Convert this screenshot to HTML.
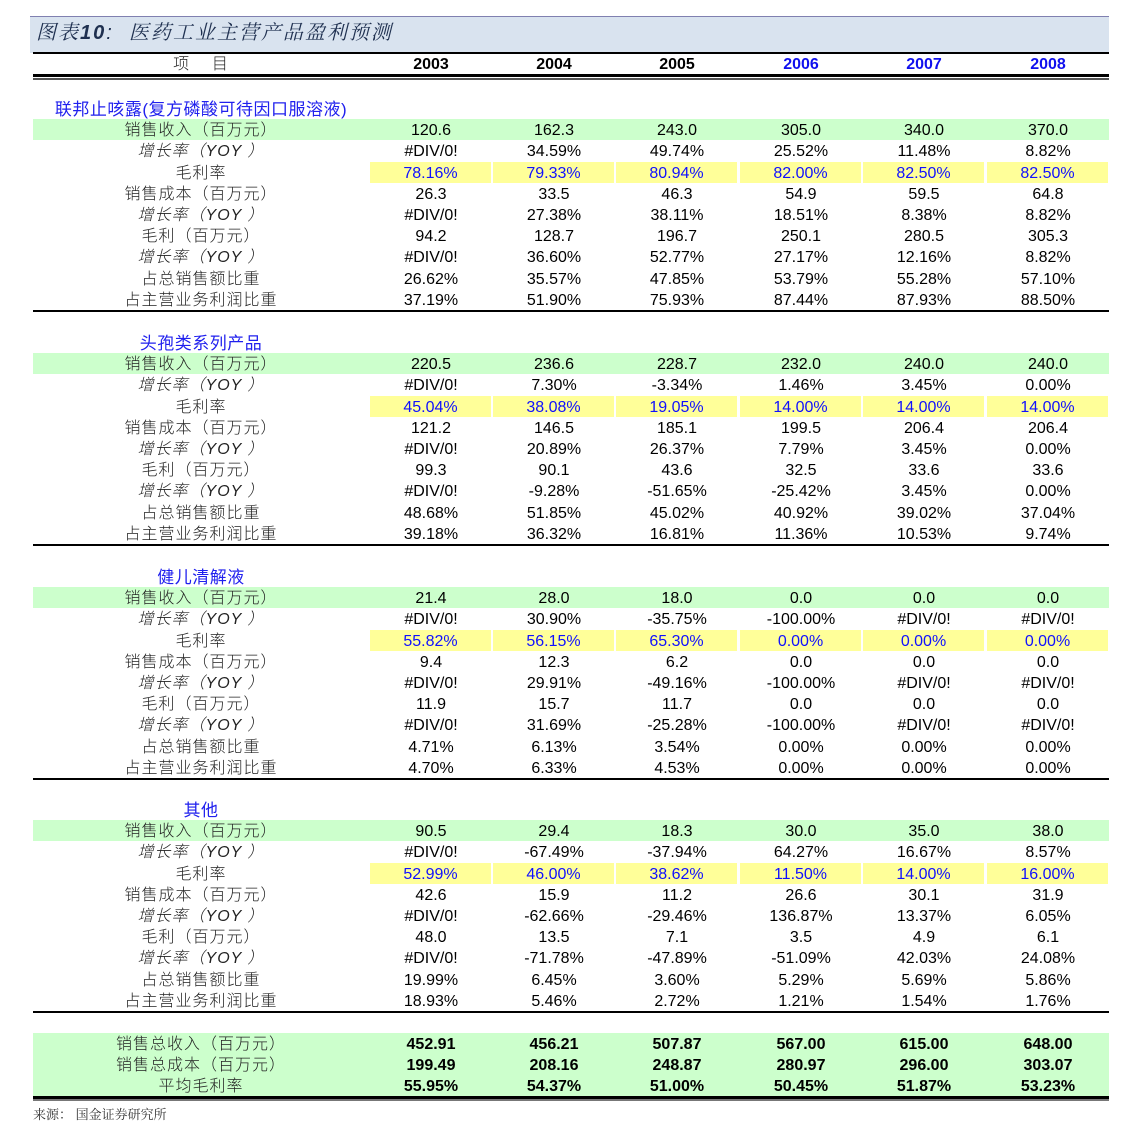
<!DOCTYPE html>
<html><head><meta charset="utf-8"><style>
body{margin:0;background:#fff;width:1139px;height:1138px;position:relative;overflow:hidden;font-family:"Liberation Sans","Noto Sans CJK SC",sans-serif;font-size:16px;color:#000}
.tb{position:absolute;left:30px;top:16px;width:1079px;height:36px;background:#d9e3ef;border-top:1px solid #8080b0}
.tt{position:absolute;left:36px;top:18px;font-size:20px;letter-spacing:2px;font-style:italic;color:#1f3050;line-height:30px;font-family:"Liberation Sans","Noto Serif CJK SC",serif}
.hl{position:absolute;left:33px;width:1076px;background:#000}
.r{position:absolute;left:33px;width:1076px;height:21px;line-height:23px}
.g{background:#ccffcc}
.l{position:absolute;left:0;width:336px;text-align:center;letter-spacing:1px;font-family:"Liberation Sans","Noto Sans CJK SC",sans-serif;font-weight:300;color:#222}
.i .l{font-style:italic}
.c{position:absolute;top:0;width:122px;height:21px;text-align:center}
.c1{left:337px}.c2{left:460px}.c3{left:583px}.c4{left:707px}.c5{left:830px}.c6{left:954px}
.y .c{background:#ffff99;color:#1010ff;width:121px}
.s{position:absolute;left:33px;width:336px;text-align:center;color:#2020ee;font-size:17px;line-height:23px;letter-spacing:0.5px}
.b .c{font-weight:bold}
.h .c{font-weight:bold}
.h .c4,.h .c5,.h .c6{color:#1010ee}
.src{position:absolute;left:33px;top:1104px;font-size:13px;color:#333;font-family:"Liberation Sans","Noto Serif CJK SC",serif}
</style></head><body>
<div class="tb"></div>
<div class="tt">图表<b>10</b>:&nbsp; 医药工业主营产品盈利预测</div>
<div class="hl" style="top:52px;height:2px"></div>
<div class="r h" style="top:53px"><div class="l">项&nbsp;&nbsp;&nbsp;&nbsp;目</div><div class="c c1">2003</div><div class="c c2">2004</div><div class="c c3">2005</div><div class="c c4">2006</div><div class="c c5">2007</div><div class="c c6">2008</div></div>
<div class="hl" style="top:74px;height:3px"></div>
<div class="hl" style="top:78px;height:2px;background:#555"></div>

<div class="s" style="top:98px">联邦止咳露(复方磷酸可待因口服溶液)</div>
<div class="r g" style="top:119px"><div class="l">销售收入（百万元）</div><div class="c c1">120.6</div><div class="c c2">162.3</div><div class="c c3">243.0</div><div class="c c4">305.0</div><div class="c c5">340.0</div><div class="c c6">370.0</div></div>
<div class="r i" style="top:140px"><div class="l">增长率（YOY ）</div><div class="c c1">#DIV/0!</div><div class="c c2">34.59%</div><div class="c c3">49.74%</div><div class="c c4">25.52%</div><div class="c c5">11.48%</div><div class="c c6">8.82%</div></div>
<div class="r y" style="top:162px"><div class="l">毛利率</div><div class="c c1">78.16%</div><div class="c c2">79.33%</div><div class="c c3">80.94%</div><div class="c c4">82.00%</div><div class="c c5">82.50%</div><div class="c c6">82.50%</div></div>
<div class="r" style="top:183px"><div class="l">销售成本（百万元）</div><div class="c c1">26.3</div><div class="c c2">33.5</div><div class="c c3">46.3</div><div class="c c4">54.9</div><div class="c c5">59.5</div><div class="c c6">64.8</div></div>
<div class="r i" style="top:204px"><div class="l">增长率（YOY ）</div><div class="c c1">#DIV/0!</div><div class="c c2">27.38%</div><div class="c c3">38.11%</div><div class="c c4">18.51%</div><div class="c c5">8.38%</div><div class="c c6">8.82%</div></div>
<div class="r" style="top:225px"><div class="l">毛利（百万元）</div><div class="c c1">94.2</div><div class="c c2">128.7</div><div class="c c3">196.7</div><div class="c c4">250.1</div><div class="c c5">280.5</div><div class="c c6">305.3</div></div>
<div class="r i" style="top:246px"><div class="l">增长率（YOY ）</div><div class="c c1">#DIV/0!</div><div class="c c2">36.60%</div><div class="c c3">52.77%</div><div class="c c4">27.17%</div><div class="c c5">12.16%</div><div class="c c6">8.82%</div></div>
<div class="r" style="top:268px"><div class="l">占总销售额比重</div><div class="c c1">26.62%</div><div class="c c2">35.57%</div><div class="c c3">47.85%</div><div class="c c4">53.79%</div><div class="c c5">55.28%</div><div class="c c6">57.10%</div></div>
<div class="r" style="top:289px"><div class="l">占主营业务利润比重</div><div class="c c1">37.19%</div><div class="c c2">51.90%</div><div class="c c3">75.93%</div><div class="c c4">87.44%</div><div class="c c5">87.93%</div><div class="c c6">88.50%</div></div>
<div class="hl" style="top:310px;height:2px"></div>

<div class="s" style="top:332px">头孢类系列产品</div>
<div class="r g" style="top:353px"><div class="l">销售收入（百万元）</div><div class="c c1">220.5</div><div class="c c2">236.6</div><div class="c c3">228.7</div><div class="c c4">232.0</div><div class="c c5">240.0</div><div class="c c6">240.0</div></div>
<div class="r i" style="top:374px"><div class="l">增长率（YOY ）</div><div class="c c1">#DIV/0!</div><div class="c c2">7.30%</div><div class="c c3">-3.34%</div><div class="c c4">1.46%</div><div class="c c5">3.45%</div><div class="c c6">0.00%</div></div>
<div class="r y" style="top:396px"><div class="l">毛利率</div><div class="c c1">45.04%</div><div class="c c2">38.08%</div><div class="c c3">19.05%</div><div class="c c4">14.00%</div><div class="c c5">14.00%</div><div class="c c6">14.00%</div></div>
<div class="r" style="top:417px"><div class="l">销售成本（百万元）</div><div class="c c1">121.2</div><div class="c c2">146.5</div><div class="c c3">185.1</div><div class="c c4">199.5</div><div class="c c5">206.4</div><div class="c c6">206.4</div></div>
<div class="r i" style="top:438px"><div class="l">增长率（YOY ）</div><div class="c c1">#DIV/0!</div><div class="c c2">20.89%</div><div class="c c3">26.37%</div><div class="c c4">7.79%</div><div class="c c5">3.45%</div><div class="c c6">0.00%</div></div>
<div class="r" style="top:459px"><div class="l">毛利（百万元）</div><div class="c c1">99.3</div><div class="c c2">90.1</div><div class="c c3">43.6</div><div class="c c4">32.5</div><div class="c c5">33.6</div><div class="c c6">33.6</div></div>
<div class="r i" style="top:480px"><div class="l">增长率（YOY ）</div><div class="c c1">#DIV/0!</div><div class="c c2">-9.28%</div><div class="c c3">-51.65%</div><div class="c c4">-25.42%</div><div class="c c5">3.45%</div><div class="c c6">0.00%</div></div>
<div class="r" style="top:502px"><div class="l">占总销售额比重</div><div class="c c1">48.68%</div><div class="c c2">51.85%</div><div class="c c3">45.02%</div><div class="c c4">40.92%</div><div class="c c5">39.02%</div><div class="c c6">37.04%</div></div>
<div class="r" style="top:523px"><div class="l">占主营业务利润比重</div><div class="c c1">39.18%</div><div class="c c2">36.32%</div><div class="c c3">16.81%</div><div class="c c4">11.36%</div><div class="c c5">10.53%</div><div class="c c6">9.74%</div></div>
<div class="hl" style="top:544px;height:2px"></div>

<div class="s" style="top:566px">健儿清解液</div>
<div class="r g" style="top:587px"><div class="l">销售收入（百万元）</div><div class="c c1">21.4</div><div class="c c2">28.0</div><div class="c c3">18.0</div><div class="c c4">0.0</div><div class="c c5">0.0</div><div class="c c6">0.0</div></div>
<div class="r i" style="top:608px"><div class="l">增长率（YOY ）</div><div class="c c1">#DIV/0!</div><div class="c c2">30.90%</div><div class="c c3">-35.75%</div><div class="c c4">-100.00%</div><div class="c c5">#DIV/0!</div><div class="c c6">#DIV/0!</div></div>
<div class="r y" style="top:630px"><div class="l">毛利率</div><div class="c c1">55.82%</div><div class="c c2">56.15%</div><div class="c c3">65.30%</div><div class="c c4">0.00%</div><div class="c c5">0.00%</div><div class="c c6">0.00%</div></div>
<div class="r" style="top:651px"><div class="l">销售成本（百万元）</div><div class="c c1">9.4</div><div class="c c2">12.3</div><div class="c c3">6.2</div><div class="c c4">0.0</div><div class="c c5">0.0</div><div class="c c6">0.0</div></div>
<div class="r i" style="top:672px"><div class="l">增长率（YOY ）</div><div class="c c1">#DIV/0!</div><div class="c c2">29.91%</div><div class="c c3">-49.16%</div><div class="c c4">-100.00%</div><div class="c c5">#DIV/0!</div><div class="c c6">#DIV/0!</div></div>
<div class="r" style="top:693px"><div class="l">毛利（百万元）</div><div class="c c1">11.9</div><div class="c c2">15.7</div><div class="c c3">11.7</div><div class="c c4">0.0</div><div class="c c5">0.0</div><div class="c c6">0.0</div></div>
<div class="r i" style="top:714px"><div class="l">增长率（YOY ）</div><div class="c c1">#DIV/0!</div><div class="c c2">31.69%</div><div class="c c3">-25.28%</div><div class="c c4">-100.00%</div><div class="c c5">#DIV/0!</div><div class="c c6">#DIV/0!</div></div>
<div class="r" style="top:736px"><div class="l">占总销售额比重</div><div class="c c1">4.71%</div><div class="c c2">6.13%</div><div class="c c3">3.54%</div><div class="c c4">0.00%</div><div class="c c5">0.00%</div><div class="c c6">0.00%</div></div>
<div class="r" style="top:757px"><div class="l">占主营业务利润比重</div><div class="c c1">4.70%</div><div class="c c2">6.33%</div><div class="c c3">4.53%</div><div class="c c4">0.00%</div><div class="c c5">0.00%</div><div class="c c6">0.00%</div></div>
<div class="hl" style="top:778px;height:2px"></div>

<div class="s" style="top:799px">其他</div>
<div class="r g" style="top:820px"><div class="l">销售收入（百万元）</div><div class="c c1">90.5</div><div class="c c2">29.4</div><div class="c c3">18.3</div><div class="c c4">30.0</div><div class="c c5">35.0</div><div class="c c6">38.0</div></div>
<div class="r i" style="top:841px"><div class="l">增长率（YOY ）</div><div class="c c1">#DIV/0!</div><div class="c c2">-67.49%</div><div class="c c3">-37.94%</div><div class="c c4">64.27%</div><div class="c c5">16.67%</div><div class="c c6">8.57%</div></div>
<div class="r y" style="top:863px"><div class="l">毛利率</div><div class="c c1">52.99%</div><div class="c c2">46.00%</div><div class="c c3">38.62%</div><div class="c c4">11.50%</div><div class="c c5">14.00%</div><div class="c c6">16.00%</div></div>
<div class="r" style="top:884px"><div class="l">销售成本（百万元）</div><div class="c c1">42.6</div><div class="c c2">15.9</div><div class="c c3">11.2</div><div class="c c4">26.6</div><div class="c c5">30.1</div><div class="c c6">31.9</div></div>
<div class="r i" style="top:905px"><div class="l">增长率（YOY ）</div><div class="c c1">#DIV/0!</div><div class="c c2">-62.66%</div><div class="c c3">-29.46%</div><div class="c c4">136.87%</div><div class="c c5">13.37%</div><div class="c c6">6.05%</div></div>
<div class="r" style="top:926px"><div class="l">毛利（百万元）</div><div class="c c1">48.0</div><div class="c c2">13.5</div><div class="c c3">7.1</div><div class="c c4">3.5</div><div class="c c5">4.9</div><div class="c c6">6.1</div></div>
<div class="r i" style="top:947px"><div class="l">增长率（YOY ）</div><div class="c c1">#DIV/0!</div><div class="c c2">-71.78%</div><div class="c c3">-47.89%</div><div class="c c4">-51.09%</div><div class="c c5">42.03%</div><div class="c c6">24.08%</div></div>
<div class="r" style="top:969px"><div class="l">占总销售额比重</div><div class="c c1">19.99%</div><div class="c c2">6.45%</div><div class="c c3">3.60%</div><div class="c c4">5.29%</div><div class="c c5">5.69%</div><div class="c c6">5.86%</div></div>
<div class="r" style="top:990px"><div class="l">占主营业务利润比重</div><div class="c c1">18.93%</div><div class="c c2">5.46%</div><div class="c c3">2.72%</div><div class="c c4">1.21%</div><div class="c c5">1.54%</div><div class="c c6">1.76%</div></div>
<div class="hl" style="top:1011px;height:2px"></div>

<div class="r g b" style="top:1033px"><div class="l">销售总收入（百万元）</div><div class="c c1">452.91</div><div class="c c2">456.21</div><div class="c c3">507.87</div><div class="c c4">567.00</div><div class="c c5">615.00</div><div class="c c6">648.00</div></div>
<div class="r g b" style="top:1054px"><div class="l">销售总成本（百万元）</div><div class="c c1">199.49</div><div class="c c2">208.16</div><div class="c c3">248.87</div><div class="c c4">280.97</div><div class="c c5">296.00</div><div class="c c6">303.07</div></div>
<div class="r g b" style="top:1075px"><div class="l">平均毛利率</div><div class="c c1">55.95%</div><div class="c c2">54.37%</div><div class="c c3">51.00%</div><div class="c c4">50.45%</div><div class="c c5">51.87%</div><div class="c c6">53.23%</div></div>
<div class="hl" style="top:1096px;height:3px"></div>
<div class="hl" style="top:1099px;height:2px;background:#777"></div>
<div class="src">来源：&nbsp;国金证券研究所</div>
</body></html>
